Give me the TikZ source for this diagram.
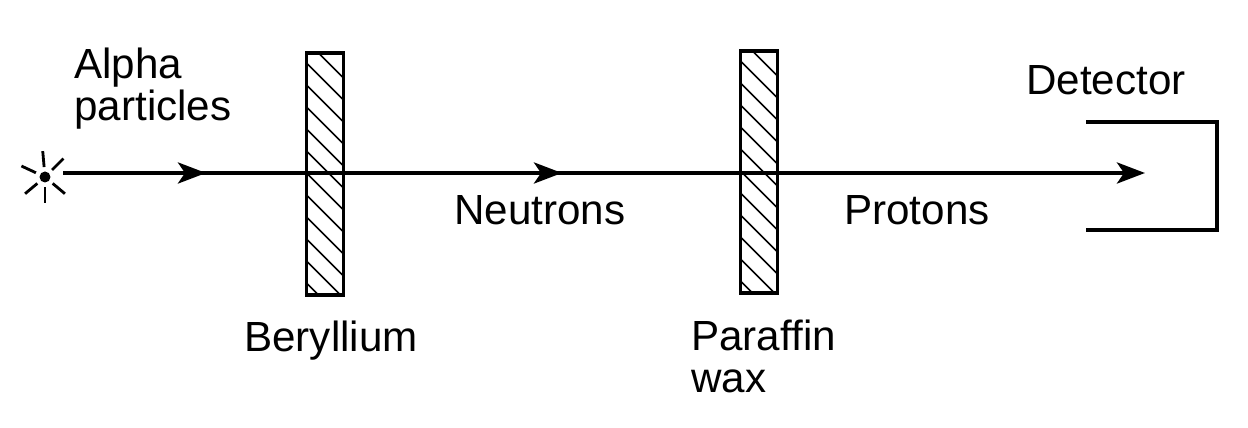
\documentclass[tikz,border=0pt]{standalone}
\usepackage{fontspec}
\setmainfont{Liberation Sans}
\usetikzlibrary{arrows.meta}

\tikzset{
  lbl/.style={inner sep=0pt, align=left, anchor=base west,
    font=\fontsize{24}{24}\selectfont},
  plate/.style={draw, line width=1.9pt, minimum width=0.74cm, minimum height=4.84cm,
    inner sep=0pt, path picture={
      \foreach \s in {-12, 10, ..., 274} {
        \draw[line width=0.95pt]
          ([yshift=-\s*0.02cm]path picture bounding box.north west) -- ++(1cm, -1cm);
      }
    }},
  beam/.style={line width=2.4pt, -{Stealth[length=0.56cm, width=0.42cm, inset=0.14cm]}},
  ray/.style={line width=1.6pt}
}

\begin{document}
\begin{tikzpicture}[x=0.02cm, y=-0.02cm]
    \useasboundingbox (0, 0) rectangle (1248, 428);

    % Source with its rays
    \node[circle, fill=black, inner sep=0pt, minimum size=0.22cm] (source) at (45, 177) {};
    \foreach \a in {95, 45, 155, 220, 270, 320} {
      \draw[ray] (source.center) ++(\a:0.2cm) -- ++(\a:0.32cm);
    }

    % Plates
    \node[plate] (beryllium) at (325, 174) {};
    \node[plate] (paraffin) at (759, 172) {};

    % Beam, with all three tips on one line
    \coordinate (start) at (63, 173);
    \coordinate (tipA) at (206, 173);
    \coordinate (tipB) at (562, 173);
    \coordinate (tipC) at (1145, 173);
    \draw[beam] (start) -- (tipC);
    \draw[beam] (start) -- (tipA);
    \draw[beam] (start) -- (tipB);

    % Detector
    \coordinate (detA) at (1086, 122);
    \coordinate (detB) at (1217, 122);
    \coordinate (detC) at (1217, 230);
    \coordinate (detD) at (1086, 230);
    \draw[line width=1.9pt] (detA) -- (detB) -- (detC) -- (detD);

    % Labels
    \node[lbl] (alpha) at (74, 121) {Alpha\\particles};
    \node[lbl] (neutrons) at (454, 225) {Neutrons};
    \node[lbl] (protons) at (844, 225) {Protons};
    \node[lbl] (beryl) at (244, 352) {Beryllium};
    \node[lbl] (wax) at (691, 393) {Paraffin\\wax};
    \node[lbl] (detector) at (1026, 95) {Detector};
  \end{tikzpicture}
\end{document}
